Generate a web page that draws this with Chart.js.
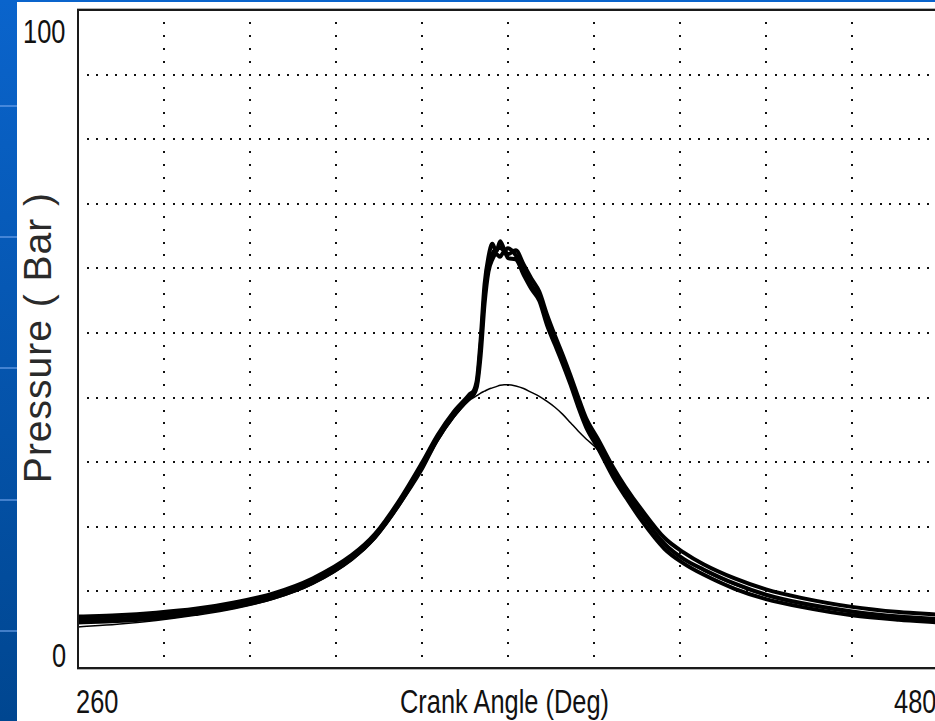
<!DOCTYPE html>
<html>
<head>
<meta charset="utf-8">
<script src="https://cdn.jsdelivr.net/npm/chart.js@4/dist/chart.umd.min.js"></script>
<style>
  html, body { margin: 0; padding: 0; }
  body { width: 935px; height: 721px; overflow: hidden; background: #fff; position: relative; }
  #side {
    position: absolute; left: 0; top: 0; width: 17px; height: 721px;
    background: linear-gradient(#0a64cc, #004690);
  }
  #side div { position: absolute; left: 0; width: 17px; height: 2px; background: rgba(120,170,240,0.55); }
  #topbar { position: absolute; left: 0; top: 0; width: 935px; height: 2px; background: #0a64cc; }
  #plot { position: absolute; left: 70px; top: 2px; }
  .lbl {
    position: absolute; font-family: "Liberation Sans", Arial, sans-serif; font-size: 33px;
    line-height: 33px; color: #111; white-space: nowrap; transform-origin: 0 0; transform: scaleX(0.77);
  }
  #ylab {
    position: absolute; left: -113px; top: 317px; width: 300px; height: 41px; text-align: center;
    font-family: "Liberation Sans", Arial, sans-serif; font-size: 39px; line-height: 41px; color: #2a2a2a;
    letter-spacing: 1px; white-space: nowrap; transform: rotate(-90deg);
  }
</style>
</head>
<body>
<div id="side"><div style="top:105px"></div><div style="top:236px"></div><div style="top:367px"></div><div style="top:499px"></div><div style="top:630px"></div></div>
<div id="topbar"></div>
<canvas id="plot" width="875" height="674"></canvas>
<div class="lbl" style="left:23px; top:15px">100</div>
<div class="lbl" style="left:52px; top:639px">0</div>
<div class="lbl" style="left:76px; top:685px">260</div>
<div class="lbl" style="left:894px; top:685px">480</div>
<div class="lbl" style="left:400px; top:685px">Crank Angle (Deg)</div>
<div id="ylab">Pressure ( Bar )</div>
<script>
// crank angle in degrees
const angles = [260, 270, 280, 290, 300, 310, 320, 330, 336, 342,
  348, 352, 356, 360, 362, 363, 364, 365, 366, 367,
  368, 369, 370, 372, 374, 376, 378, 380, 382, 384,
  386, 388, 390, 393, 397, 400, 404, 410, 415, 420,
  428, 436, 445, 458, 470, 480];

// fired cycles (bar)
const firedA = [5.6, 5.8, 6.2, 6.9, 7.9, 9.3, 11.6, 15.3, 18.6, 23.6,
  29.6, 33.9, 37.4, 40.1, 42.0, 48.0, 56.0, 60.5, 62.3, 63.0,
  63.2, 62.8, 63.1, 62.0, 59.6, 57.4, 55.6, 52.0, 48.8, 45.8,
  42.6, 39.2, 36.0, 32.8, 28.3, 25.4, 22.0, 17.4, 15.0, 13.4,
  11.2, 9.5, 8.2, 6.9, 6.1, 5.7];
const firedB = [6.1, 6.3, 6.7, 7.3, 8.3, 9.7, 12.0, 15.6, 18.9, 23.9,
  29.9, 34.2, 37.7, 40.4, 42.6, 49.0, 57.5, 61.8, 63.8, 62.6,
  64.2, 63.0, 62.2, 62.8, 60.6, 58.4, 56.4, 52.8, 49.6, 46.6,
  43.4, 40.0, 36.8, 33.6, 29.1, 26.2, 22.8, 18.3, 16.0, 14.2,
  12.0, 10.3, 9.0, 7.6, 6.8, 6.4];
const firedC = [5.2, 5.4, 5.8, 6.6, 7.6, 9.0, 11.3, 15.0, 18.4, 23.3,
  29.3, 33.6, 37.1, 39.9, 41.6, 46.5, 54.5, 59.5, 61.4, 62.2,
  61.8, 62.6, 61.6, 61.4, 59.0, 56.8, 55.0, 51.2, 48.2, 45.2,
  42.0, 38.5, 35.4, 32.2, 27.6, 24.7, 21.1, 16.6, 14.3, 12.6,
  10.4, 8.8, 7.6, 6.3, 5.6, 5.2];
// motored (no combustion)
const motored = [4.5, 4.9, 5.5, 6.3, 7.3, 8.8, 11.1, 14.8, 18.1, 23.0,
  28.6, 33.2, 36.8, 39.5, 40.3, 40.7, 41.0, 41.3, 41.5, 41.7,
  41.9, 42.0, 42.0, 41.8, 41.4, 40.8, 40.2, 39.4, 38.5, 37.4,
  36.1, 34.8, 33.6, 31.9, 28.0, 25.1, 21.8, 17.2, 15.0, 13.2,
  11.0, 9.3, 8.0, 6.7, 5.9, 5.5];

const xMin = 260, xMax = 480, xStep = 22;
const yMin = -1.86, yMax = 100;
const yGrid = [10, 20, 30, 40, 50, 60, 70, 80, 90];

const toPoints = (ys) => angles.map((a, i) => ({ x: a, y: ys[i] }));

const gridPlugin = {
  id: 'dotGrid',
  beforeDatasetsDraw(chart) {
    const { ctx, chartArea, scales: { x, y } } = chart;
    ctx.save();
    ctx.fillStyle = '#111';
    const dx = (x.getPixelForValue(xMin + xStep) - x.getPixelForValue(xMin)) / 9;
    yGrid.forEach(v => {
      const py = Math.round(y.getPixelForValue(v));
      for (let px = chartArea.left + dx; px < chartArea.right; px += dx) {
        ctx.fillRect(Math.round(px) - 1, py - 1, 2, 2);
      }
    });
    for (let g = xMin + xStep; g < xMax; g += xStep) {
      const px = Math.round(x.getPixelForValue(g));
      for (let v = 0; v < 100; v += 2) {
        const py = Math.round(y.getPixelForValue(v));
        ctx.fillRect(px - 1, py - 1, 2, 2);
      }
    }
    ctx.restore();
  },
  afterDraw(chart) {
    const { ctx, chartArea } = chart;
    ctx.save();
    ctx.fillStyle = '#1a1a1a';
    const l = Math.round(chartArea.left), t = Math.round(chartArea.top), b = Math.round(chartArea.bottom);
    ctx.fillRect(l - 1, t - 1, chart.width - l + 1, 2);
    ctx.fillRect(l - 1, b - 1, chart.width - l + 1, 2);
    ctx.fillRect(l - 1, t - 1, 2, b - t + 1);
    ctx.fillStyle = 'rgba(0,0,0,0.3)';
    ctx.fillRect(l - 1, t - 2, chart.width - l + 1, 1);
    ctx.fillRect(l - 1, b + 1, chart.width - l + 1, 1);
    ctx.restore();
  }
};

const line = (data, w) => ({
  data: toPoints(data),
  borderColor: '#000',
  borderWidth: w,
  pointRadius: 0,
  fill: false,
  cubicInterpolationMode: 'monotone'
});

new Chart(document.getElementById('plot'), {
  type: 'line',
  data: {
    datasets: [
      line(motored, 1.5),
      line(firedC, 4),
      line(firedA, 4),
      line(firedB, 4)
    ]
  },
  options: {
    responsive: false,
    animation: false,
    devicePixelRatio: 1,
    layout: { padding: { left: 8, top: 8, right: 7, bottom: 8 } },
    plugins: { legend: { display: false }, tooltip: { enabled: false } },
    scales: {
      x: { type: 'linear', min: xMin, max: xMax, display: false },
      y: { type: 'linear', min: yMin, max: yMax, display: false }
    }
  },
  plugins: [gridPlugin]
});
</script>
</body>
</html>
